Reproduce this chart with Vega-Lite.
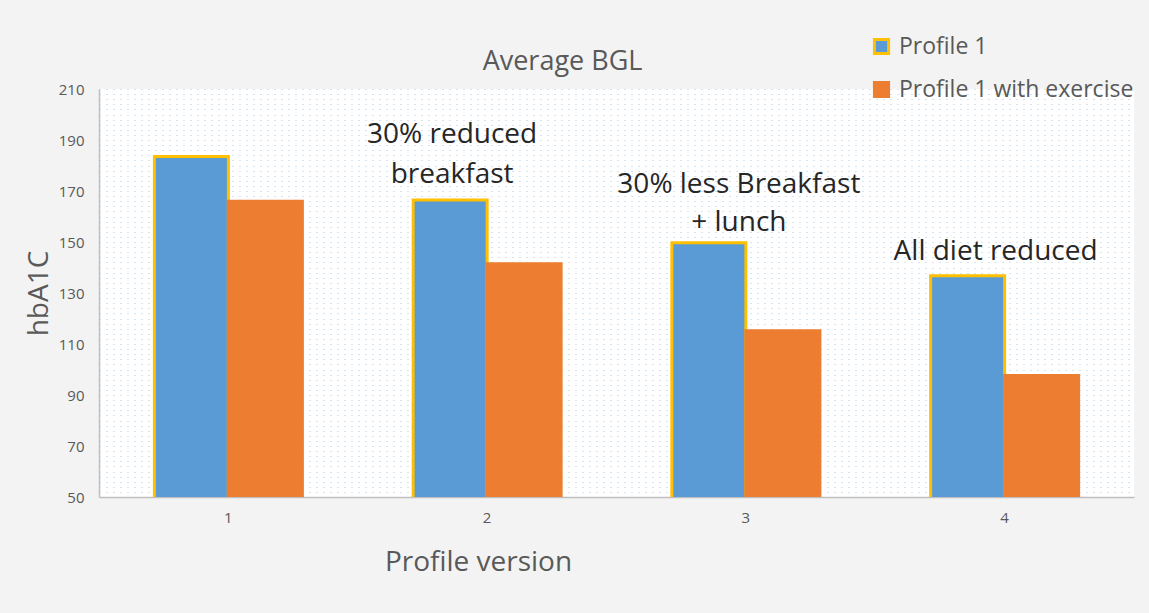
{
  "$schema": "https://vega.github.io/schema/vega-lite/v6.json",
  "width": 1035,
  "height": 408,
  "autosize": {"type": "none"},
  "padding": {"left": 99, "top": 89, "right": 15, "bottom": 116},
  "background": "#f3f3f3",
  "title": {
    "text": "Average BGL",
    "anchor": "middle",
    "dx": -54,
    "offset": -41,
    "font": "Open Sans",
    "fontSize": 27,
    "fontWeight": "normal",
    "color": "#595959"
  },
  "config": {
    "view": {"fill": "#ffffff", "stroke": null},
    "font": "Open Sans"
  },
  "encoding": {
    "x": {
      "field": "version",
      "type": "nominal",
      "scale": {"paddingInner": 0.428, "paddingOuter": 0.214},
      "axis": {
        "title": "Profile version",
        "titleX": 379,
        "titleY": 65,
        "titleBaseline": "middle",
        "titleFontSize": 28,
        "titleFontWeight": "normal",
        "titleColor": "#595959",
        "labelAngle": 0,
        "labelFontSize": 15,
        "labelColor": "#595959",
        "labelPadding": 13,
        "ticks": false,
        "domainColor": "#bfbfbf",
        "domainWidth": 1.5
      }
    },
    "y": {
      "field": "value",
      "type": "quantitative",
      "scale": {"domain": [50, 210], "zero": false, "nice": false},
      "axis": {
        "title": "hbA1C",
        "titleFontSize": 28,
        "titleFontWeight": "normal",
        "titleColor": "#595959",
        "titlePadding": 5,
        "values": [50,52,54,56,58,60,62,64,66,68,70,72,74,76,78,80,82,84,86,88,90,92,94,96,98,100,102,104,106,108,110,112,114,116,118,120,122,124,126,128,130,132,134,136,138,140,142,144,146,148,150,152,154,156,158,160,162,164,166,168,170,172,174,176,178,180,182,184,186,188,190,192,194,196,198,200,202,204,206,208,210],
        "labelExpr": "datum.value % 20 == 10 ? datum.label : ''",
        "labelOverlap": false,
        "labelBound": false,
        "labelFontSize": 15,
        "labelColor": "#595959",
        "labelPadding": 15,
        "ticks": false,
        "grid": true,
        "gridColor": "#9dc3e6",
        "gridDash": [1, 6],
        "gridWidth": 1,
        "gridOpacity": 0.9,
        "domainColor": "#bfbfbf",
        "domainWidth": 1.5
      }
    }
  },
  "layer": [
    {
      "data": {
        "values": [
          {"version": "1", "series": "Profile 1", "value": 183.5},
          {"version": "1", "series": "Profile 1 with exercise", "value": 166},
          {"version": "2", "series": "Profile 1", "value": 166.5},
          {"version": "2", "series": "Profile 1 with exercise", "value": 141.5},
          {"version": "3", "series": "Profile 1", "value": 149.7},
          {"version": "3", "series": "Profile 1 with exercise", "value": 115.2},
          {"version": "4", "series": "Profile 1", "value": 136.8},
          {"version": "4", "series": "Profile 1 with exercise", "value": 97.6}
        ]
      },
      "mark": {"type": "bar", "strokeWidth": 3, "clip": true},
      "encoding": {
        "xOffset": {
          "field": "series",
          "type": "nominal",
          "scale": {"paddingInner": 0, "paddingOuter": 0}
        },
        "fill": {
          "field": "series",
          "type": "nominal",
          "scale": {"domain": ["Profile 1", "Profile 1 with exercise"], "range": ["#5b9bd5", "#ed7d31"]},
          "legend": {
            "title": null,
            "orient": "none",
            "legendX": 771,
            "legendY": -54,
            "symbolType": "square",
            "symbolSize": 200,
            "symbolStrokeWidth": 3,
            "labelFontSize": 23,
            "labelColor": "#595959",
            "labelFont": "Open Sans",
            "labelLimit": 400,
            "rowPadding": 16,
            "labelOffset": 6,
            "padding": 0
          }
        },
        "stroke": {
          "field": "series",
          "type": "nominal",
          "scale": {"domain": ["Profile 1", "Profile 1 with exercise"], "range": ["#ffc000", "#ed7d31"]}
        }
      }
    },
    {
      "data": {"values": [{"version": "2", "value": 192, "note": ["30% reduced", "breakfast"]}]},
      "mark": {"type": "text", "dx": -35, "fontSize": 28, "lineHeight": 40, "baseline": "middle", "color": "#262626", "font": "Open Sans"},
      "encoding": {"text": {"field": "note"}}
    },
    {
      "data": {"values": [{"version": "3", "value": 172.4, "note": ["30% less Breakfast", "+ lunch"]}]},
      "mark": {"type": "text", "dx": -7, "fontSize": 28, "lineHeight": 38, "baseline": "middle", "color": "#262626", "font": "Open Sans"},
      "encoding": {"text": {"field": "note"}}
    },
    {
      "data": {"values": [{"version": "4", "value": 146.2, "note": "All diet reduced"}]},
      "mark": {"type": "text", "dx": -9, "fontSize": 28, "baseline": "middle", "color": "#262626", "font": "Open Sans"},
      "encoding": {"text": {"field": "note"}}
    }
  ]
}
